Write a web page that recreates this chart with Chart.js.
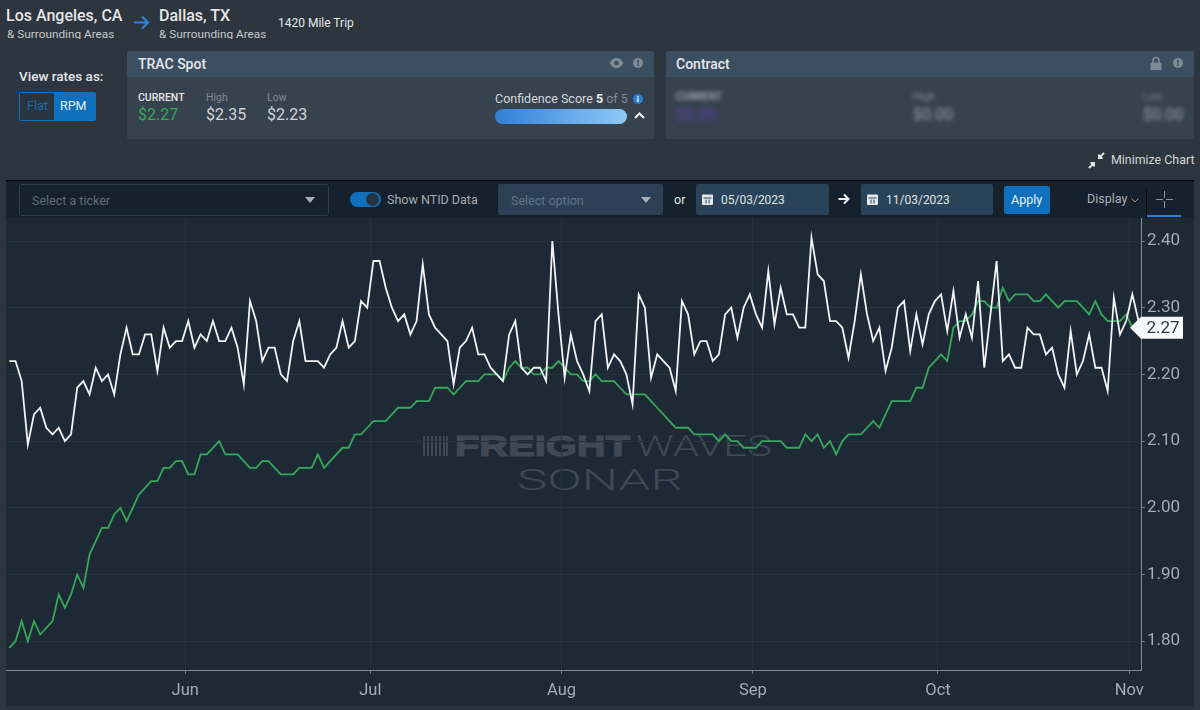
<!DOCTYPE html>
<html lang="en">
<head>
    <meta charset="UTF-8">
    <title>Los Angeles to Dallas rates</title>
    <script src="https://cdn.jsdelivr.net/npm/chart.js"></script>
    <style>
        html, body {
            margin: 0;
            width: 1200px;
            height: 710px;
            overflow: hidden;
            background-color: #2d353e;
            font-family: Roboto, sans-serif;
            color: #e4e7ea;
        }
        .t { position: absolute; white-space: nowrap; line-height: 1; }
        .box { position: absolute; box-sizing: border-box; }
        .grey { color: #7e8993; }
        .val { color: #ced3d7; font-size: 16px; }
        .blur { filter: blur(2px); }
        svg { position: absolute; overflow: visible; }
        #chartPanel { position: absolute; left: 6px; top: 218px; width: 1188px; height: 488px; background-color: #1d2a36; }
        #rateChart { position: absolute; left: 6px; top: 218px; }
        #toolbar { position: absolute; left: 6px; top: 180px; width: 1188px; height: 38px; background-color: #15212c; border-top: 1px solid #05090d; box-sizing: border-box; }
    </style>
</head>
<body>

<!-- route header -->
<div class="t" style="left:6px;top:8px;font-size:16px;font-weight:500;">Los Angeles, CA</div>
<div class="t" style="left:7px;top:28px;font-size:11.8px;color:#c3c8cc;height:11px;overflow:hidden;line-height:12px;">&amp; Surrounding Areas</div>
<svg style="left:133px;top:14px" width="17" height="17" viewBox="0 0 17 17"><path d="M1 8.5H15M9 2.5L15 8.5L9 14.5" fill="none" stroke="#2f80d8" stroke-width="2.2"/></svg>
<div class="t" style="left:159px;top:8px;font-size:16px;font-weight:500;">Dallas, TX</div>
<div class="t" style="left:159px;top:28px;font-size:11.8px;color:#c3c8cc;height:11px;overflow:hidden;line-height:12px;">&amp; Surrounding Areas</div>
<div class="t" style="left:278px;top:17px;font-size:12px;">1420 Mile Trip</div>

<!-- rate toggle -->
<div class="t" style="left:19px;top:70px;font-size:13.5px;font-weight:500;">View rates as:</div>
<div class="box" style="left:19px;top:92px;width:77px;height:29px;background:#0f71bd;border-radius:2px;"></div>
<div class="box" style="left:20px;top:93px;width:34px;height:27px;background:#27333f;"></div>
<div class="t" style="left:27px;top:100px;font-size:12.5px;color:#1f6aa8;">Flat</div>
<div class="t" style="left:60px;top:100px;font-size:12.5px;color:#e6eef5;">RPM</div>

<!-- TRAC spot card -->
<div class="box" style="left:127px;top:51px;width:527px;height:88px;background:#36434f;border-radius:2px;"></div>
<div class="box" style="left:127px;top:51px;width:527px;height:26px;background:#3c4f62;border-radius:2px 2px 0 0;"></div>
<div class="t" style="left:138px;top:57px;font-size:14px;font-weight:500;">TRAC Spot</div>
<svg style="left:609px;top:58px" width="15" height="10" viewBox="0 0 15 10"><path d="M0.5 5C3 1 5 0 7.500 0S12 1 14.500 5C12 9 10 10 7.500 10S3 9 0.500 5Z" fill="#7e8a96"/><circle cx="7.500" cy="5" r="2.300" fill="#3c4f62"/></svg>
<svg style="left:633px;top:58px" width="10" height="10"><circle cx="5" cy="5" r="5" fill="#7e8a96"/><rect x="4.200" y="2" width="1.600" height="3.600" fill="#3c4f62"/><rect x="4.200" y="6.400" width="1.600" height="1.600" fill="#3c4f62"/></svg>
<div class="t" style="left:138px;top:93px;font-size:10.5px;font-weight:500;">CURRENT</div>
<div class="t" style="left:138px;top:107px;font-size:16px;color:#34a853;">$2.27</div>
<div class="t grey" style="left:206px;top:93px;font-size:10.5px;">High</div>
<div class="t val" style="left:206px;top:107px;">$2.35</div>
<div class="t grey" style="left:267px;top:93px;font-size:10.5px;">Low</div>
<div class="t val" style="left:267px;top:107px;">$2.23</div>
<div class="t" style="left:495px;top:93px;font-size:12.5px;color:#d3d7da;">Confidence Score <b style="font-weight:700;color:#eee;">5</b> <span class="grey">of 5</span></div>
<svg style="left:633px;top:94px" width="10" height="10"><circle cx="5" cy="5" r="5" fill="#2f80d8"/><rect x="4.200" y="4.200" width="1.600" height="3.800" fill="#d9e8f6"/><rect x="4.200" y="2" width="1.600" height="1.500" fill="#d9e8f6"/></svg>
<div class="box" style="left:495px;top:109px;width:132px;height:15px;border-radius:8px;background:linear-gradient(to right,#2f7fd6,#8ecaf9);"></div>
<svg style="left:634px;top:112px" width="11" height="7"><path d="M1 6L5.500 1.500L10 6" fill="none" stroke="#eef1f3" stroke-width="2"/></svg>

<!-- contract card, blurred values -->
<div class="box" style="left:666px;top:51px;width:528px;height:88px;background:#36434f;border-radius:2px;"></div>
<div class="box" style="left:666px;top:51px;width:528px;height:26px;background:#3c4f62;border-radius:2px 2px 0 0;"></div>
<div class="t" style="left:676px;top:57px;font-size:14px;font-weight:500;">Contract</div>
<svg style="left:1150px;top:57px" width="12" height="13"><rect x="0.500" y="5.500" width="11" height="7.500" rx="1" fill="#7e8a96"/><path d="M3 6V3.500A3 3 0 0 1 9 3.500V6" fill="none" stroke="#7e8a96" stroke-width="1.600"/></svg>
<svg style="left:1173px;top:58px" width="10" height="10"><circle cx="5" cy="5" r="5" fill="#7e8a96"/><rect x="4.200" y="2" width="1.600" height="3.600" fill="#3c4f62"/><rect x="4.200" y="6.400" width="1.600" height="1.600" fill="#3c4f62"/></svg>
<div class="t blur" style="left:676px;top:92px;font-size:10.5px;color:#c6cbd0;">CURRENT</div>
<div class="t blur" style="left:676px;top:107px;font-size:16px;color:#5b3fa6;">$0.00</div>
<div class="t blur grey" style="left:913px;top:92px;font-size:10.5px;">High</div>
<div class="t blur" style="left:913px;top:107px;font-size:16px;color:#98a0a8;">$0.00</div>
<div class="t blur grey" style="left:1143px;top:92px;font-size:10.5px;">Low</div>
<div class="t blur" style="left:1143px;top:107px;font-size:16px;color:#98a0a8;">$0.00</div>

<svg style="left:1088px;top:152px" width="17" height="17" viewBox="0 0 17 17"><path d="M16 1L11 6M11 2.500V6H14.500M1 16L6 11M2.500 11H6V14.500" fill="none" stroke="#e4e7ea" stroke-width="2"/></svg>
<div class="t" style="left:1111px;top:154px;font-size:12.4px;color:#d3d7da;">Minimize Chart</div>

<!-- toolbar -->
<div id="toolbar"></div>
<div class="box" style="left:19px;top:184px;width:310px;height:32px;background:#15212c;border:1px solid #2c3d4d;border-radius:3px;"></div>
<div class="t" style="left:32px;top:195px;font-size:12.5px;color:#5f6c78;">Select a ticker</div>
<svg style="left:305px;top:197px" width="10" height="6"><path d="M0 0H10L5 6Z" fill="#a8afb5"/></svg>
<div class="box" style="left:350px;top:192px;width:31px;height:15px;border-radius:8px;background:#0f71bd;"></div>
<div class="box" style="left:366px;top:193px;width:13px;height:13px;border-radius:7px;background:#26323e;"></div>
<div class="t" style="left:387px;top:194px;font-size:12.5px;color:#a3abb2;">Show NTID Data</div>
<div class="box" style="left:498px;top:184px;width:165px;height:31px;background:#2c4155;border-radius:2px;"></div>
<div class="t" style="left:511px;top:195px;font-size:12.5px;color:#5f7488;">Select option</div>
<svg style="left:641px;top:197px" width="10" height="6"><path d="M0 0H10L5 6Z" fill="#a8afb5"/></svg>
<div class="t" style="left:674px;top:194px;font-size:12.5px;color:#e4e7ea;">or</div>
<div class="box" style="left:696px;top:184px;width:133px;height:31px;background:#2a4359;border-radius:2px;"></div>
<svg style="left:702px;top:193px" width="11" height="12"><rect x="0" y="1.500" width="11" height="10.500" rx="1" fill="#e4e7ea"/><rect x="1.500" y="4.500" width="8" height="1" fill="#2a4359"/><rect x="3.500" y="6.500" width="1" height="4" fill="#2a4359"/><rect x="6.500" y="6.500" width="1" height="4" fill="#2a4359"/></svg>
<div class="t" style="left:721px;top:194px;font-size:12px;color:#dfe3e6;">05/03/2023</div>
<svg style="left:838px;top:193px" width="12" height="12" viewBox="0 0 12 12"><path d="M0.500 6H10.500M6 1.500L10.500 6L6 10.500" fill="none" stroke="#eef1f3" stroke-width="2"/></svg>
<div class="box" style="left:861px;top:184px;width:132px;height:31px;background:#2a4359;border-radius:2px;"></div>
<svg style="left:867px;top:193px" width="11" height="12"><rect x="0" y="1.500" width="11" height="10.500" rx="1" fill="#e4e7ea"/><rect x="1.500" y="4.500" width="8" height="1" fill="#2a4359"/><rect x="3.500" y="6.500" width="1" height="4" fill="#2a4359"/><rect x="6.500" y="6.500" width="1" height="4" fill="#2a4359"/></svg>
<div class="t" style="left:886px;top:194px;font-size:12px;color:#dfe3e6;">11/03/2023</div>
<div class="box" style="left:1004px;top:186px;width:46px;height:28px;background:#0f71bd;border-radius:2px;"></div>
<div class="t" style="left:1011px;top:194px;font-size:12.5px;color:#e9f1f8;">Apply</div>
<div class="t" style="left:1087px;top:193px;font-size:12.5px;color:#a8afb5;">Display</div>
<svg style="left:1131px;top:198px" width="8" height="5"><path d="M0.500 0.500L4 4L7.500 0.500" fill="none" stroke="#8d959c" stroke-width="1"/></svg>
<div class="box" style="left:1146px;top:190px;width:1px;height:28px;background:#05090d;"></div>
<svg style="left:1156px;top:191px" width="17" height="17"><path d="M0 8.500H7M10 8.500H17M8.500 0V7M8.500 10V17" stroke="#8d959c" stroke-width="1"/></svg>
<div class="box" style="left:1147px;top:215px;width:34px;height:2px;background:#2f7fd6;"></div>

<!-- chart -->
<div id="chartPanel"></div>
<svg style="left:0;top:0" width="1200" height="710">
    <g fill="#3e4954">
        <rect x="423" y="436" width="2" height="20"/><rect x="427" y="436" width="2" height="20"/><rect x="431" y="436" width="2" height="20"/>
        <rect x="435" y="436" width="2" height="20"/><rect x="439" y="436" width="2" height="20"/><rect x="443" y="436" width="2" height="20"/><rect x="446" y="436" width="2" height="20"/>
    </g>
    <text x="455" y="456" font-family="Liberation Sans" font-weight="700" font-size="29" fill="#3e4954" stroke="#3e4954" stroke-width="1.200" textLength="175" lengthAdjust="spacingAndGlyphs">FREIGHT</text>
    <text x="636" y="456" font-family="Roboto" font-weight="300" font-size="29" fill="#3e4954" textLength="136" lengthAdjust="spacingAndGlyphs">WAVES</text>
    <text x="517" y="490" font-family="Roboto" font-weight="300" font-size="30" fill="#3e4954" textLength="166" lengthAdjust="spacingAndGlyphs">SONAR</text>
</svg>
<canvas id="rateChart" width="1188" height="488"></canvas>

<script>
    // one value per day
    const ntidRates = [
        2.22, 2.22, 2.19, 2.095, 2.14, 2.15, 2.12, 2.11, 2.12, 2.10,
        2.11, 2.18, 2.19, 2.17, 2.21, 2.19, 2.20, 2.17, 2.23, 2.27,
        2.23, 2.23, 2.26, 2.26, 2.205, 2.27, 2.24, 2.25, 2.25, 2.28,
        2.24, 2.26, 2.25, 2.28, 2.25, 2.25, 2.27, 2.24, 2.185, 2.31,
        2.28, 2.22, 2.24, 2.24, 2.20, 2.19, 2.25, 2.28, 2.22, 2.22,
        2.22, 2.21, 2.23, 2.24, 2.28, 2.24, 2.25, 2.31, 2.30, 2.37,
        2.37, 2.33, 2.30, 2.28, 2.29, 2.26, 2.28, 2.365, 2.29, 2.27,
        2.26, 2.25, 2.185, 2.24, 2.25, 2.27, 2.23, 2.23, 2.21, 2.20,
        2.19, 2.26, 2.28, 2.21, 2.20, 2.21, 2.21, 2.19, 2.40, 2.29,
        2.195, 2.26, 2.22, 2.20, 2.175, 2.28, 2.29, 2.21, 2.23, 2.22,
        2.20, 2.155, 2.32, 2.30, 2.195, 2.23, 2.22, 2.21, 2.175, 2.31,
        2.29, 2.23, 2.25, 2.25, 2.22, 2.23, 2.29, 2.30, 2.255, 2.30,
        2.32, 2.29, 2.27, 2.355, 2.275, 2.33, 2.29, 2.29, 2.27, 2.27,
        2.405, 2.35, 2.34, 2.28, 2.28, 2.27, 2.225, 2.28, 2.35, 2.29,
        2.25, 2.27, 2.205, 2.24, 2.30, 2.31, 2.235, 2.29, 2.245, 2.29,
        2.31, 2.32, 2.265, 2.325, 2.255, 2.29, 2.255, 2.34, 2.21, 2.29,
        2.37, 2.22, 2.23, 2.21, 2.21, 2.27, 2.26, 2.26, 2.23, 2.24,
        2.20, 2.18, 2.265, 2.20, 2.22, 2.26, 2.21, 2.21, 2.175, 2.315,
        2.26, 2.28, 2.32, 2.28
    ];
    const tracRates = [
        1.79, 1.80, 1.83, 1.80, 1.83, 1.81, 1.82, 1.83, 1.87, 1.85,
        1.87, 1.90, 1.88, 1.93, 1.95, 1.97, 1.97, 1.99, 2.00, 1.98,
        2.00, 2.02, 2.03, 2.04, 2.04, 2.06, 2.06, 2.07, 2.07, 2.05,
        2.05, 2.08, 2.08, 2.09, 2.10, 2.08, 2.08, 2.08, 2.07, 2.06,
        2.06, 2.07, 2.07, 2.06, 2.05, 2.05, 2.05, 2.06, 2.06, 2.06,
        2.08, 2.06, 2.07, 2.08, 2.09, 2.09, 2.11, 2.11, 2.12, 2.13,
        2.13, 2.13, 2.14, 2.15, 2.15, 2.15, 2.16, 2.16, 2.16, 2.18,
        2.18, 2.18, 2.17, 2.18, 2.19, 2.19, 2.19, 2.20, 2.20, 2.20,
        2.19, 2.21, 2.22, 2.21, 2.21, 2.20, 2.20, 2.21, 2.21, 2.22,
        2.21, 2.20, 2.20, 2.19, 2.19, 2.20, 2.19, 2.19, 2.19, 2.18,
        2.17, 2.17, 2.17, 2.17, 2.16, 2.15, 2.14, 2.13, 2.12, 2.12,
        2.12, 2.11, 2.11, 2.11, 2.11, 2.10, 2.11, 2.10, 2.10, 2.09,
        2.09, 2.09, 2.10, 2.10, 2.10, 2.10, 2.09, 2.09, 2.09, 2.11,
        2.10, 2.11, 2.09, 2.10, 2.08, 2.10, 2.11, 2.11, 2.11, 2.12,
        2.13, 2.12, 2.14, 2.16, 2.16, 2.16, 2.16, 2.18, 2.18, 2.21,
        2.22, 2.23, 2.22, 2.27, 2.28, 2.28, 2.29, 2.31, 2.31, 2.30,
        2.30, 2.33, 2.31, 2.32, 2.32, 2.32, 2.31, 2.31, 2.32, 2.31,
        2.30, 2.31, 2.31, 2.31, 2.30, 2.29, 2.31, 2.29, 2.28, 2.28,
        2.28, 2.29, 2.27
    ];
    const monthLabels = ['Jun', 'Jul', 'Aug', 'Sep', 'Oct', 'Nov'];
    const monthDays = [28.5, 58.5, 89.5, 120.5, 150.5, 181.5];
    const rateTicks = [1.8, 1.9, 2.0, 2.1, 2.2, 2.3, 2.4];
    const currentRate = 2.27;

    const toPoints = values => values.map((y, x) => ({ x: x, y: y }));

    // white tag with the current rate on the right axis
    const currentTag = {
        id: 'currentTag',
        afterDraw(chart) {
            const ctx = chart.ctx;
            const right = chart.chartArea.right;
            const y = chart.scales.y.getPixelForValue(currentRate);
            ctx.save();
            ctx.fillStyle = '#f7f8f9';
            ctx.beginPath();
            ctx.moveTo(right - 11, y);
            ctx.lineTo(right, y - 11);
            ctx.lineTo(right + 42, y - 11);
            ctx.lineTo(right + 42, y + 11);
            ctx.lineTo(right, y + 11);
            ctx.closePath();
            ctx.fill();
            ctx.fillStyle = '#33383d';
            ctx.font = '17px Roboto';
            ctx.textBaseline = 'middle';
            ctx.textAlign = 'left';
            ctx.fillText(currentRate.toFixed(2), right + 5.5, y + 1);
            ctx.restore();
        }
    };

    // the app's chart runs edge to edge, no room kept for half labels
    function noPadding(scale) {
        scale.paddingTop = 0;
        scale.paddingBottom = 0;
        scale.paddingLeft = 0;
        scale.paddingRight = 0;
    }

    new Chart(document.getElementById('rateChart'), {
        type: 'line',
        data: {
            datasets: [
                { label: 'NTID', data: toPoints(ntidRates), borderColor: '#f1f3f4', borderWidth: 1.8, pointRadius: 0, tension: 0 },
                { label: 'TRAC Spot', data: toPoints(tracRates), borderColor: '#35a85a', borderWidth: 1.8, pointRadius: 0, tension: 0 }
            ]
        },
        options: {
            responsive: false,
            animation: false,
            events: [],
            layout: { padding: 0 },
            plugins: { legend: { display: false }, tooltip: { enabled: false } },
            scales: {
                x: {
                    type: 'linear',
                    min: -0.54,
                    max: 183.4,
                    afterBuildTicks: scale => { scale.ticks = monthDays.map(v => ({ value: v })); },
                    afterFit: scale => { scale.height = 36; noPadding(scale); },
                    border: { color: '#868d94', width: 1 },
                    grid: { color: '#25333f', tickColor: '#6d767e', tickLength: 4 },
                    ticks: {
                        color: '#a6abb0',
                        font: { family: 'Roboto', size: 16.5 },
                        padding: 7,
                        maxRotation: 0,
                        autoSkip: false,
                        callback: value => monthLabels[monthDays.indexOf(value)]
                    }
                },
                y: {
                    position: 'right',
                    min: 1.7568,
                    max: 2.4345,
                    afterBuildTicks: scale => { scale.ticks = rateTicks.map(v => ({ value: v })); },
                    afterFit: scale => { scale.width = 53; noPadding(scale); },
                    border: { color: '#868d94', width: 1 },
                    grid: { color: '#25333f', tickColor: '#6d767e', tickLength: 4 },
                    ticks: {
                        color: '#a6abb0',
                        font: { family: 'Roboto', size: 17 },
                        padding: 2,
                        callback: value => value.toFixed(2)
                    }
                }
            }
        },
        plugins: [currentTag]
    });
</script>

</body>
</html>
